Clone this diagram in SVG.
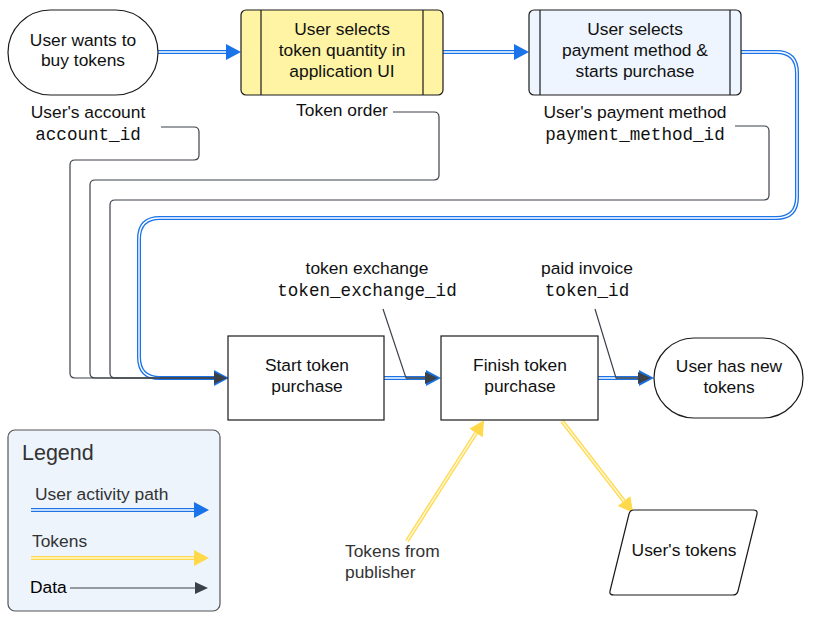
<svg xmlns="http://www.w3.org/2000/svg" width="816" height="620" viewBox="0 0 816 620">
<style>
  text { font-family: "Liberation Sans", Arial, sans-serif; font-size: 17.4px; fill: #111; }
  .c { text-anchor: middle; }
  .mono { font-family: "Liberation Mono", "Courier New", monospace; font-size: 17.6px; }
  .grey { fill: #333; }
  .node { stroke: #1a1a1a; stroke-width: 1.2; }
  .ua { fill: none; stroke: #1A73E8; stroke-width: 4; }
  .uai { fill: none; stroke: #ffffff; stroke-width: 1.4; }
  .tk { fill: none; stroke: #FFD94A; stroke-width: 4; }
  .tki { fill: none; stroke: #FFF8D6; stroke-width: 1.4; }
  .data { fill: none; stroke: #3B4149; stroke-width: 1.2; }
</style>
<defs>
  <marker id="ab" markerUnits="userSpaceOnUse" markerWidth="15" markerHeight="16" refX="0" refY="8" orient="auto">
    <path d="M0,0 L15,8 L0,16 z" fill="#1A73E8"/>
  </marker>
  <marker id="ay" markerUnits="userSpaceOnUse" markerWidth="15" markerHeight="16" refX="0" refY="8" orient="auto">
    <path d="M0,0 L15,8 L0,16 z" fill="#FFD94A"/>
  </marker>
  <marker id="ad" markerUnits="userSpaceOnUse" markerWidth="13" markerHeight="12" refX="0" refY="6" orient="auto">
    <path d="M0,0 L13,6 L0,12 z" fill="#3B4149"/>
  </marker>
</defs>

<g id="connectors">
  <!-- user activity path -->
  <path class="ua" d="M158,52 H226" marker-end="url(#ab)"/>
  <path class="uai" d="M158,52 H226"/>
  <path class="ua" d="M443,52 H514" marker-end="url(#ab)"/>
  <path class="uai" d="M443,52 H514"/>
  <path class="ua" d="M741,52 H776 Q797,52 797,73 V197 Q797,218 776,218 H160 Q139,218 139,239 V357 Q139,378 160,378 H214" marker-end="url(#ab)"/>
  <path class="uai" d="M741,52 H776 Q797,52 797,73 V197 Q797,218 776,218 H160 Q139,218 139,239 V357 Q139,378 160,378 H214"/>
  <path class="ua" d="M384,378 H426" marker-end="url(#ab)"/>
  <path class="uai" d="M384,378 H426"/>
  <path class="ua" d="M598,378 H639" marker-end="url(#ab)"/>
  <path class="uai" d="M598,378 H639"/>

  <!-- data -->
  <path class="data" d="M161,127 H194 Q199,127 199,132 V155 Q199,160 194,160 H75 Q70,160 70,165 V373 Q70,378 75,378 H214" marker-end="url(#ad)"/>
  <path class="data" d="M393,112 H434 Q439,112 439,117 V175 Q439,180 434,180 H95 Q90,180 90,185 V373 Q90,378 95,378 H214"/>
  <path class="data" d="M735,126 H764 Q769,126 769,131 V195 Q769,200 764,200 H115 Q110,200 110,205 V373 Q110,378 115,378 H214"/>
  <path class="data" d="M160,378 H214" stroke-width="2.5"/>
  <path class="data" d="M383,309 L406,378 H425" marker-end="url(#ad)"/>
  <path class="data" d="M406,378 H425" stroke-width="2.5"/>
  <path class="data" d="M595,309 L616,378 H638" marker-end="url(#ad)"/>
  <path class="data" d="M616,378 H638" stroke-width="2.5"/>

  <!-- tokens -->
  <path class="tk" d="M407,541 L476,433" marker-end="url(#ay)"/>
  <path class="tki" d="M407,541 L476,433"/>
  <path class="tk" d="M562,421 L624,501" marker-end="url(#ay)"/>
  <path class="tki" d="M562,421 L624,501"/>
</g>

<g id="n-start">
  <rect class="node" x="8" y="10" width="150" height="85" rx="42.5" fill="#fff"/>
  <text class="c" x="83" y="46">User wants to</text>
  <text class="c" x="83" y="66">buy tokens</text>
</g>

<g id="n-select-qty">
  <rect class="node" x="241" y="10" width="202" height="85" rx="5" fill="#FFF4A3"/>
  <line class="node" x1="261" y1="10" x2="261" y2="95"/>
  <line class="node" x1="423" y1="10" x2="423" y2="95"/>
  <text class="c" x="342" y="35">User selects</text>
  <text class="c" x="342" y="56">token quantity in</text>
  <text class="c" x="342" y="77">application UI</text>
</g>

<g id="n-select-pay">
  <rect class="node" x="529" y="10" width="212" height="85" rx="5" fill="#EEF5FE"/>
  <line class="node" x1="540" y1="10" x2="540" y2="95"/>
  <line class="node" x1="730" y1="10" x2="730" y2="95"/>
  <text class="c" x="635" y="35">User selects</text>
  <text class="c" x="635" y="56">payment method &amp;</text>
  <text class="c" x="635" y="77">starts purchase</text>
</g>

<g id="labels">
  <text class="c" x="88" y="118">User's account</text>
  <text class="c mono" x="88" y="140">account_id</text>
  <text class="c" x="342" y="116">Token order</text>
  <text class="c" x="635" y="118">User's payment method</text>
  <text class="c mono" x="635" y="140">payment_method_id</text>
  <text class="c" x="367" y="274">token exchange</text>
  <text class="c mono" x="367" y="296">token_exchange_id</text>
  <text class="c" x="587" y="274">paid invoice</text>
  <text class="c mono" x="587" y="296">token_id</text>
  <text class="grey" x="345" y="557">Tokens from</text>
  <text class="grey" x="345" y="578">publisher</text>
</g>

<g id="n-start-purchase">
  <rect class="node" x="228" y="336" width="156" height="84" fill="#fff"/>
  <text class="c" x="307" y="371">Start token</text>
  <text class="c" x="307" y="392">purchase</text>
</g>

<g id="n-finish-purchase">
  <rect class="node" x="441" y="336" width="157" height="84" fill="#fff"/>
  <text class="c" x="520" y="371">Finish token</text>
  <text class="c" x="520" y="392">purchase</text>
</g>

<g id="n-end">
  <rect class="node" x="654" y="338" width="149" height="80" rx="40" fill="#fff"/>
  <text class="c" x="729" y="372">User has new</text>
  <text class="c" x="729" y="393">tokens</text>
</g>

<g id="n-user-tokens">
  <path class="node" d="M634,510 H753 Q758,510 757,514 L738,591 Q737,595 733,595 H614 Q609,595 610,591 L629,514 Q630,510 634,510 Z" fill="#fff"/>
  <text class="c" x="684" y="556">User's tokens</text>
</g>

<g id="legend">
  <rect x="8" y="430" width="212" height="181" rx="7" fill="#EDF4FC" stroke="#555" stroke-width="1.2"/>
  <text class="grey" x="22" y="460" style="font-size:21.5px">Legend</text>
  <text class="grey" x="35" y="500">User activity path</text>
  <path class="ua" d="M31,510 H194" marker-end="url(#ab)"/>
  <path class="uai" d="M31,510 H194"/>
  <text class="grey" x="32" y="547">Tokens</text>
  <path class="tk" d="M31,558 H194" marker-end="url(#ay)"/>
  <path class="tki" d="M31,558 H194"/>
  <text x="30" y="593" style="fill:#000">Data</text>
  <path class="data" d="M70,588 H195" marker-end="url(#ad)"/>
</g>
</svg>
